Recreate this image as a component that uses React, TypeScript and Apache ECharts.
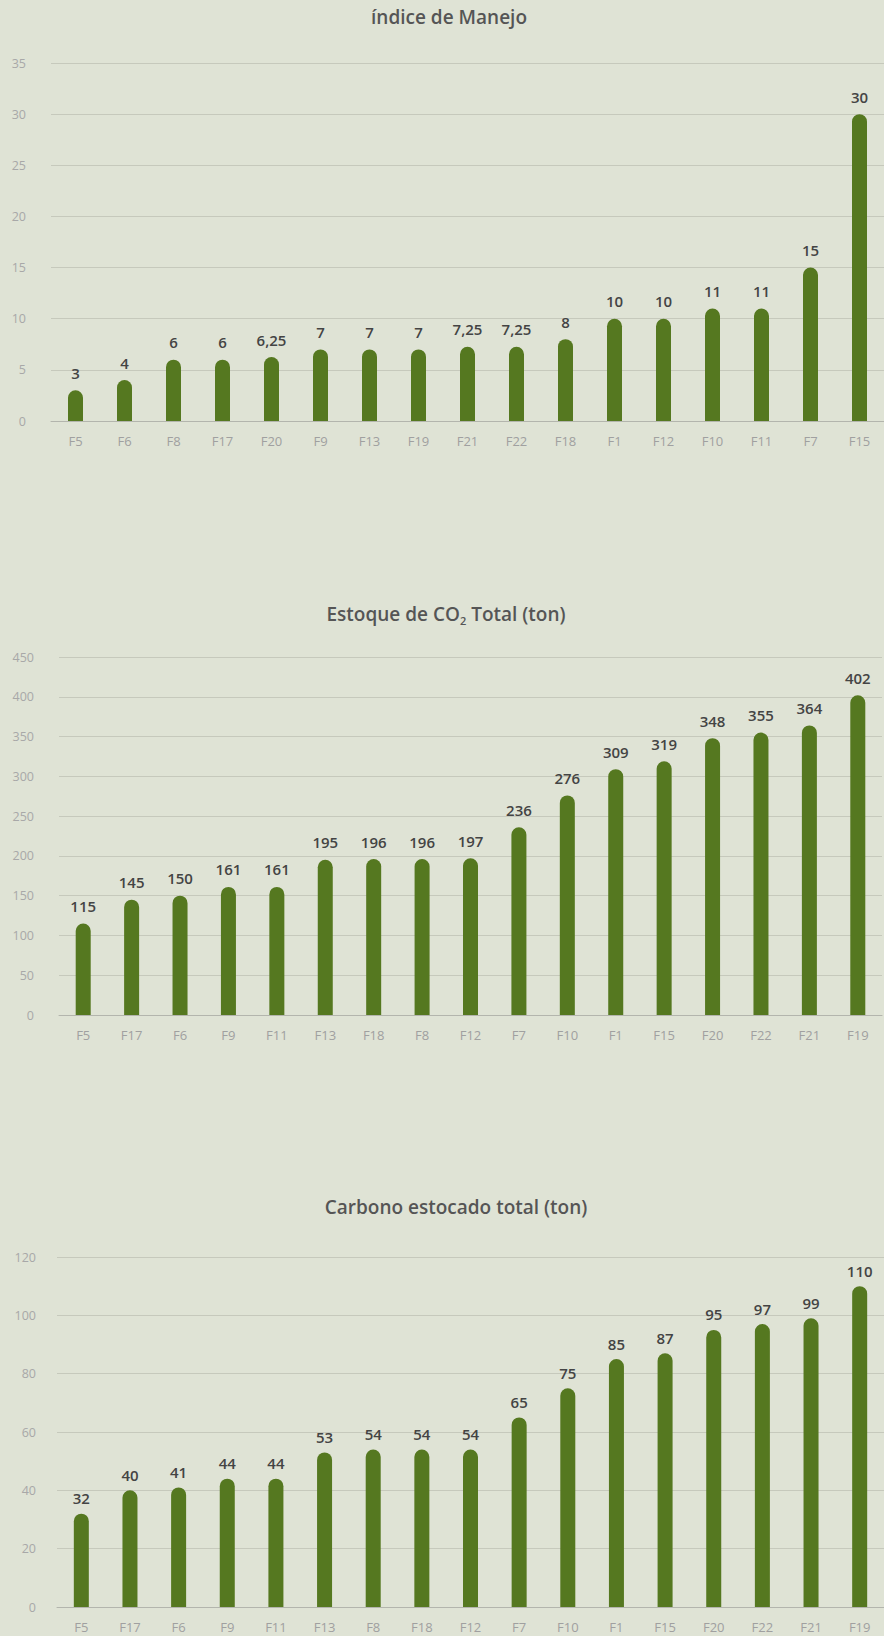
import React, { useEffect, useRef } from "react";
import * as echarts from "echarts";

const cats1 = ["F5","F6","F8","F17","F20","F9","F13","F19","F21","F22","F18","F1","F12","F10","F11","F7","F15"];
const vals1 = [3,4,6,6,6.25,7,7,7,7.25,7.25,8,10,10,11,11,15,30];

const cats2 = ["F5","F17","F6","F9","F11","F13","F18","F8","F12","F7","F10","F1","F15","F20","F22","F21","F19"];
const vals2 = [115,145,150,161,161,195,196,196,197,236,276,309,319,348,355,364,402];

const cats3 = ["F5","F17","F6","F9","F11","F13","F8","F18","F12","F7","F10","F1","F15","F20","F22","F21","F19"];
const vals3 = [32,40,41,44,44,53,54,54,54,65,75,85,87,95,97,99,110];

const BG = "#dfe3d5";
const BAR = "#557820";
const FONT = "'Open Sans', 'Noto Sans', sans-serif";

export default function App() {
  const ref = useRef<HTMLDivElement>(null);
  useEffect(() => {
    document.body.style.margin = "0";
    document.body.style.background = BG;
    const chart = echarts.init(ref.current!, null, { renderer: "svg" });
    const grids = [
      { left: 51, top: 63, width: 835, height: 358 },
      { left: 59, top: 657, width: 823, height: 358 },
      { left: 57, top: 1257, width: 831, height: 350 },
    ];
    const maxes = [35, 450, 120];
    const intervals = [5, 50, 20];
    const margins = [25, 25, 21];
    const cats = [cats1, cats2, cats3];
    const vals = [vals1, vals2, vals3];
    const titleStyle = { fontFamily: FONT, fontWeight: 600, fontSize: 19, color: "#555555" };
    chart.setOption({
      animation: false,
      backgroundColor: BG,
      textStyle: { fontFamily: FONT },
      title: [
        { text: "índice de Manejo", left: 449, textAlign: "center", top: 7, padding: 0, textStyle: titleStyle },
        {
          text: "Estoque de CO{sub|2} Total (ton)",
          left: 446,
          textAlign: "center",
          top: 602,
          padding: 0,
          textStyle: {
            ...titleStyle,
            lineHeight: 24,
            rich: {
              sub: { fontFamily: FONT, fontWeight: 600, fontSize: 11, color: "#555555", verticalAlign: "bottom", lineHeight: 11, padding: [10, 0, 0, 0] },
            },
          },
        },
        { text: "Carbono estocado total (ton)", left: 456, textAlign: "center", top: 1197, padding: 0, textStyle: titleStyle },
      ],
      grid: grids,
      xAxis: cats.map((c, i) => ({
        type: "category",
        gridIndex: i,
        data: c,
        axisTick: { show: false },
        axisLine: { show: true, lineStyle: { color: "#b3b5ad", width: 1 } },
        axisLabel: { color: "#a0a0a0", fontSize: 13, margin: 13, fontFamily: FONT, interval: 0 },
      })),
      yAxis: maxes.map((m, i) => ({
        type: "value",
        gridIndex: i,
        min: 0,
        max: m,
        interval: intervals[i],
        axisLine: { show: false },
        axisTick: { show: false },
        splitLine: { lineStyle: { color: "#c6c9bc", width: 1 } },
        axisLabel: { color: "#a8a8a8", fontSize: 12.5, margin: margins[i], fontFamily: FONT },
      })),
      series: vals.map((v, i) => ({
        type: "bar",
        xAxisIndex: i,
        yAxisIndex: i,
        data: v,
        barWidth: 15,
        itemStyle: { color: BAR, borderRadius: [7.5, 7.5, 0, 0] },
        label: {
          show: true,
          position: "top",
          distance: i === 2 ? 8 : 10,
          color: "#444444",
          fontWeight: 600,
          fontSize: 15,
          fontFamily: FONT,
          formatter: (p: any) => String(p.value).replace(".", ","),
        },
      })),
    });
    return () => chart.dispose();
  }, []);
  return <div ref={ref} style={{ width: 884, height: 1636 }} />;
}
